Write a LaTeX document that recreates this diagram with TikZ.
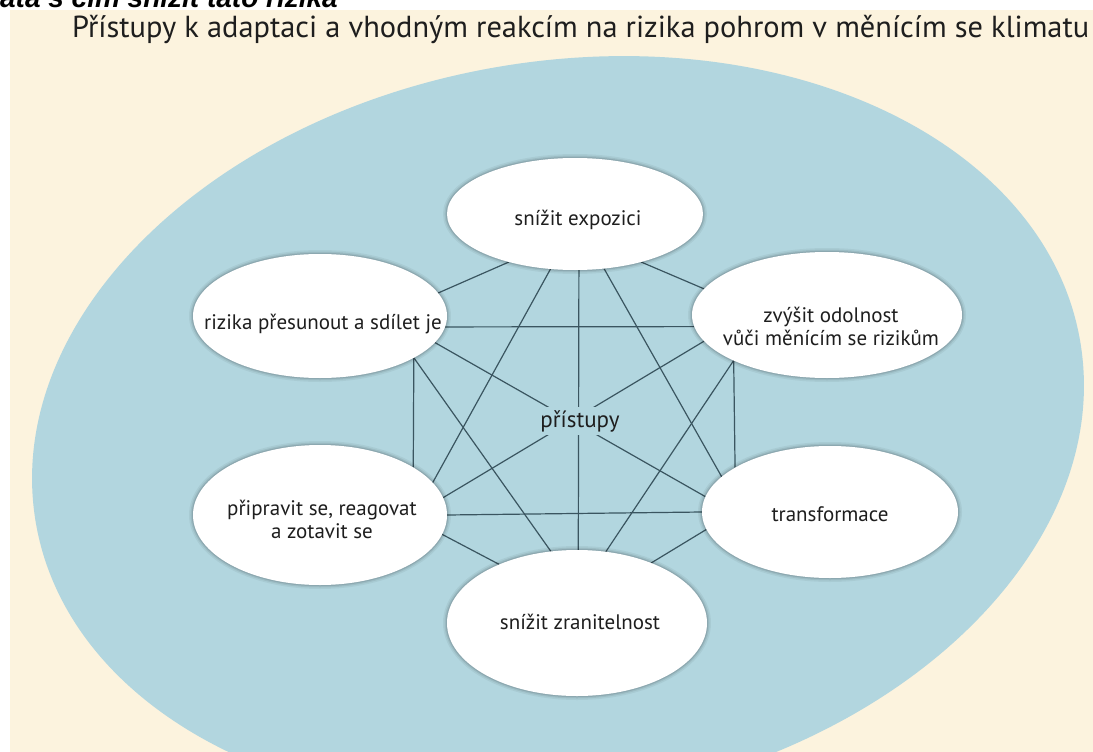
\documentclass[tikz,border=0pt]{standalone}
\usepackage{fontspec}
\setmainfont{PT Sans}
\newfontfamily\headfont{Liberation Sans}
\usetikzlibrary{shapes.geometric}
\pgfdeclarelayer{back}
\pgfdeclarelayer{wires}
\pgfsetlayers{back,wires,main}

\definecolor{paper}{HTML}{FCF3DE}
\definecolor{pool}{HTML}{B2D6DF}
\definecolor{wirecol}{HTML}{3A5560}
\definecolor{ink}{HTML}{1E1E1E}

\begin{document}
\begin{tikzpicture}[x=1pt,y=-1pt,
  bubble/.style={ellipse, fill=white, inner sep=0pt, outer sep=0pt,
    preaction={draw=black, draw opacity=0.05, line width=8pt},
    preaction={draw=black, draw opacity=0.07, line width=5pt},
    preaction={draw=black, draw opacity=0.10, line width=2.5pt}},
  bubtext/.style={font=\fontsize{21}{23}\selectfont, text=ink, align=center, inner sep=0pt},
  wire/.style={draw=wirecol, line width=1.2pt}]

\useasboundingbox (0,0) rectangle (1093,752);

\begin{pgfonlayer}{back}
  \fill[white] (0,0) rectangle (1093,752);
  \fill[paper] (10,10) rectangle (1093,752);
  % slightly tilted backdrop ellipse
  \begin{scope}[shift={(558,432)}, rotate=10]
    \fill[pool] (0,0) ellipse [x radius=530, y radius=370];
  \end{scope}
\end{pgfonlayer}

% cut-off heading line and title
\node[anchor=base east, inner sep=0pt, text=black,
      font=\headfont\bfseries\itshape\fontsize{28}{30}\selectfont] (lead) at (338,8)
      {ata s čím snížit tato rizika};
\node[anchor=base west, inner sep=0pt, text=ink,
      font=\fontsize{30.4}{34}\selectfont] (title) at (72,38)
      {Přístupy k adaptaci a vhodným reakcím na rizika pohrom v měnícím se klimatu};

% the six approaches
\node[bubble, minimum width=256pt, minimum height=112pt] (t)  at (575,214) {};
\node[bubble, minimum width=254pt, minimum height=124pt] (ul) at (320,316) {};
\node[bubble, minimum width=270pt, minimum height=126pt] (ur) at (827,315) {};
\node[bubble, minimum width=254pt, minimum height=140pt] (ll) at (320,515) {};
\node[bubble, minimum width=256pt, minimum height=132pt] (lr) at (830,512) {};
\node[bubble, minimum width=260pt, minimum height=146pt] (b)  at (577,623) {};

\node[bubtext] (t-txt)  at (578,220) {snížit expozici};
\node[bubtext] (ul-txt) at (323,324) {rizika přesunout a sdílet je};
\node[bubtext] (ur-txt) at (831,326) {zvýšit odolnost\\vůči měnícím se rizikům};
\node[bubtext] (ll-txt) at (322,519) {připravit se, reagovat\\a zotavit se};
\node[bubtext] (lr-txt) at (830,514) {transformace};
\node[bubtext] (b-txt)  at (580,622) {snížit zranitelnost};

% links between every pair of approaches
\begin{pgfonlayer}{wires}
  \draw[wire] (ul.-5.5)  -- (ur.185.6);
  \draw[wire] (ll.0.9)   -- (lr.180.4);
  \draw[wire] (ul.-24.3) -- (ll.27.3);
  \draw[wire] (ur.206.6) -- (lr.155.2);
  \draw[wire] (t.-86.9)  -- (b.89.2);
  \draw[wire] (ul.-13.7) -- (lr.173.3);
  \draw[wire] (ur.192.9) -- (ll.8.9);
  \draw[wire] (t.216.7)  -- (ul.11.3);
  \draw[wire] (t.-36)    -- (ur.168.7);
  \draw[wire] (t.246.7)  -- (ll.16.9);
  \draw[wire] (t.-62.6)  -- (lr.162.3);
  \draw[wire] (ul.-24.3) -- (b.110.8);
  \draw[wire] (ur.206.6) -- (b.68.5);
  \draw[wire] (ll.-9.5)  -- (b.143.1);
  \draw[wire] (lr.188.5) -- (b.39.4);
\end{pgfonlayer}

% hub label, masking the crossing links
\node[bubtext, fill=pool, inner sep=3pt, font=\fontsize{23}{26}\selectfont] (hub) at (580,421) {přístupy};

\end{tikzpicture}
\end{document}
